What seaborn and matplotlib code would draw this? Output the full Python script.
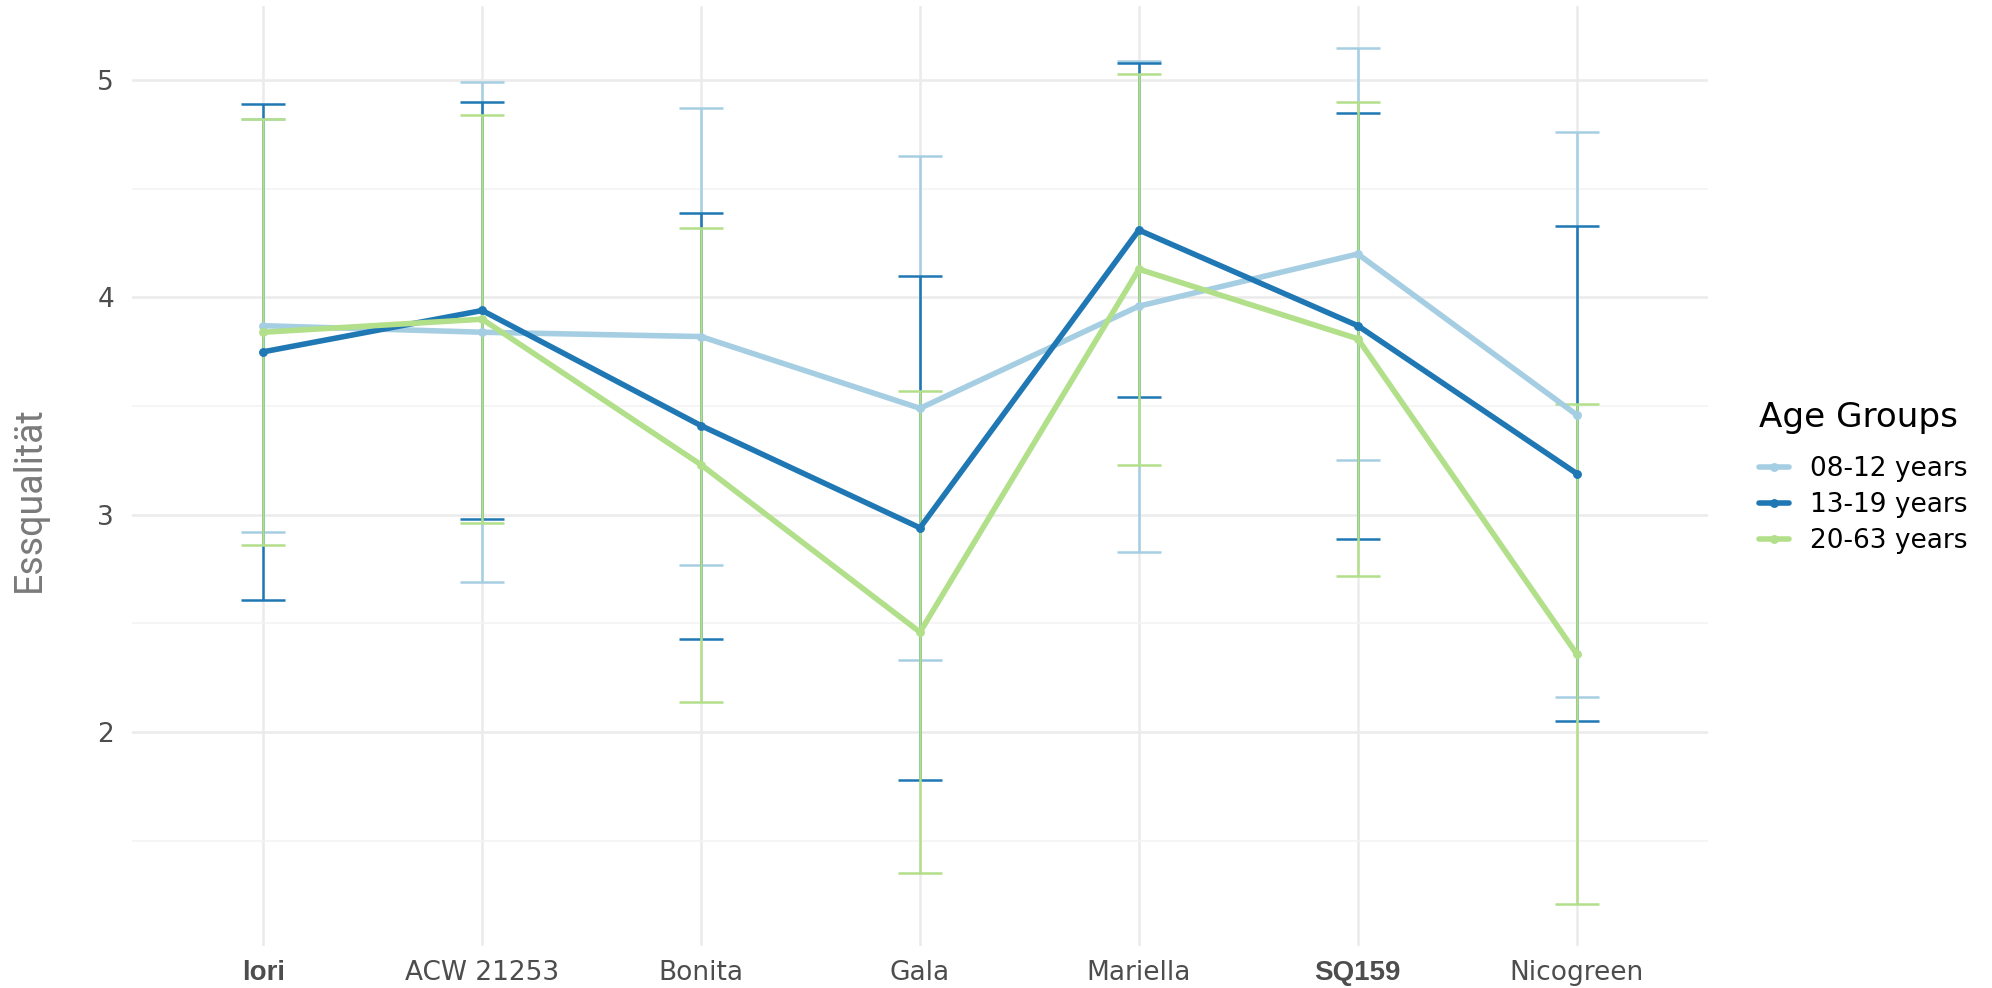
import numpy as np
import pandas as pd
import matplotlib
matplotlib.use("Agg")
import matplotlib.pyplot as plt
import seaborn as sns

# Varieties on the x axis (in plotting order) and which of them get bold labels
varieties = ["lori", "ACW 21253", "Bonita", "Gala", "Mariella", "SQ159", "Nicogreen"]
bold_varieties = ["lori", "SQ159"]

groups = ["08-12 years", "13-19 years", "20-63 years"]
group_colors = ["#a6cee3", "#1f78b4", "#b2df8a"]

# Mean eating-quality score per variety, one list per age group
mean_08_12 = [3.87, 3.84, 3.82, 3.49, 3.96, 4.20, 3.46]
mean_13_19 = [3.75, 3.94, 3.41, 2.94, 4.31, 3.87, 3.19]
mean_20_63 = [3.84, 3.90, 3.23, 2.46, 4.13, 3.81, 2.36]

# Half-width of the error bars (mean +/- value)
err_08_12 = [0.95, 1.15, 1.05, 1.16, 1.13, 0.95, 1.30]
err_13_19 = [1.14, 0.96, 0.98, 1.16, 0.77, 0.98, 1.14]
err_20_63 = [0.98, 0.94, 1.09, 1.11, 0.90, 1.09, 1.15]

means = [mean_08_12, mean_13_19, mean_20_63]
errs = [err_08_12, err_13_19, err_20_63]

df = pd.DataFrame({
    "variety": np.tile(varieties, len(groups)),
    "group": np.repeat(groups, len(varieties)),
    "mean": np.concatenate(means),
    "err": np.concatenate(errs),
})
df["lo"] = df["mean"] - df["err"]
df["hi"] = df["mean"] + df["err"]

sns.set_theme(style="white")
plt.rcParams["font.family"] = ["DejaVu Sans"]

fig = plt.figure(figsize=(9.96, 4.94), dpi=200)
ax = fig.add_axes([132 / 1992, 1 - 946 / 988, (1708 - 132) / 1992, 940 / 988])

pos = {v: i for i, v in enumerate(varieties)}

# Error bars (whiskers + caps), drawn beneath the lines
for k, (g, c) in enumerate(zip(groups, group_colors)):
    sub = df[df["group"] == g]
    xs = sub["variety"].map(pos).to_numpy()
    ax.vlines(xs, sub["lo"], sub["hi"], color=c, lw=0.9, zorder=2 + k * 0.1)
    ax.hlines(sub["lo"], xs - 0.1, xs + 0.1, color=c, lw=0.9, zorder=2 + k * 0.1)
    ax.hlines(sub["hi"], xs - 0.1, xs + 0.1, color=c, lw=0.9, zorder=2 + k * 0.1)

sns.lineplot(
    data=df, x="variety", y="mean", hue="group", hue_order=groups,
    palette=group_colors, marker="o", markersize=3.2, markeredgewidth=0,
    linewidth=2.0, sort=False, errorbar=None, ax=ax, zorder=3,
)

ax.set_xlim(-0.6, len(varieties) - 1 + 0.6)
ax.set_ylim(1.016, 5.341)
ax.set_xticks(range(len(varieties)))
ax.set_xticklabels(varieties)
ax.set_yticks([2, 3, 4, 5])
ax.set_yticks([1.5, 2.5, 3.5, 4.5], minor=True)

ax.grid(True, which="major", color="#ebebeb", lw=0.9)
ax.grid(True, which="minor", axis="y", color="#f3f3f3", lw=0.6)
ax.set_axisbelow(True)
for s in ax.spines.values():
    s.set_visible(False)

ax.tick_params(axis="both", which="both", length=0, labelsize=9.5, labelcolor="#4d4d4d")
ax.tick_params(axis="x", pad=5)
ax.tick_params(axis="y", pad=6.5)
for lab in ax.get_xticklabels():
    if lab.get_text() in bold_varieties:
        lab.set_fontfamily(["Liberation Sans", "DejaVu Sans"])
        lab.set_fontweight("bold")
        lab.set_fontsize(10)

ax.set_xlabel("")
ax.set_ylabel("Essqualität", fontsize=13.5, color="#7a7a7a",
              family=["Roboto", "DejaVu Sans"], va="center")
ax.yaxis.set_label_coords(-0.0654, 0.475)

handles, labels = ax.get_legend_handles_labels()
leg = ax.legend(
    handles, labels, title="Age Groups", loc="center left",
    bbox_to_anchor=(1759 / 1992, 0.517), bbox_transform=fig.transFigure,
    frameon=False, fontsize=9.5, title_fontsize=12.3, borderpad=0,
    borderaxespad=0, handlelength=1.15, handletextpad=0.8, labelspacing=0.38,
    alignment="left", labelcolor="black",
)
leg.get_title().set_color("black")
# extra room between the legend title and its entries
leg._legend_box.sep = 8.0
for h in leg.legend_handles:
    h.set_linewidth(2.0)

fig.savefig("out.png", dpi=200, facecolor="white")
